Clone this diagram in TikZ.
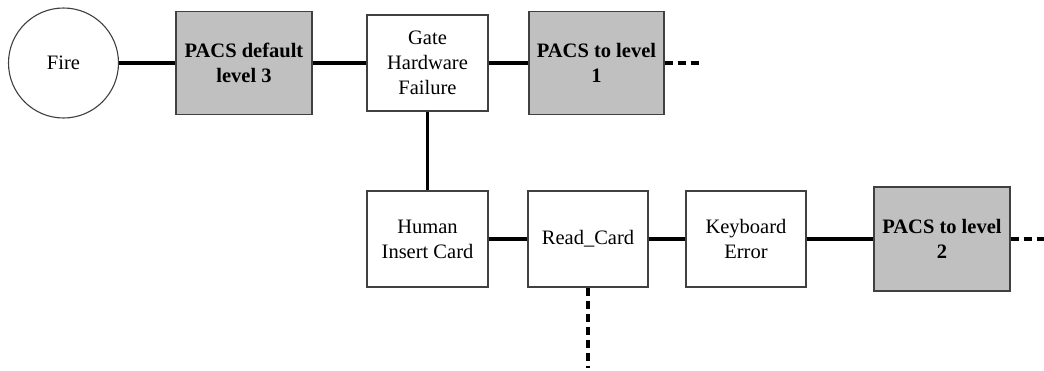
\documentclass[tikz,border=0pt]{standalone}
\usepackage{fontspec}
\setmainfont{Liberation Serif}
\newfontfamily\tnr{Liberation Serif}
\definecolor{boxgray}{HTML}{C0C0C0}
\begin{document}
\begin{tikzpicture}[x=1pt,y=-1pt,
  every node/.style={font=\tnr\fontsize{20.5}{25}\selectfont, align=center, inner sep=0pt},
  plainbox/.style={draw=black!75, line width=1.2pt, fill=white, rectangle},
  graybox/.style={draw=black!75, line width=1.2pt, fill=boxgray, rectangle, font=\tnr\fontsize{20.5}{25}\selectfont\bfseries},
  link/.style={line width=3.2pt},
  dlink/.style={line width=3.2pt, dash pattern=on 8pt off 5pt}]
\useasboundingbox (0,0) rectangle (1044,370);
\node[draw=black!75, line width=1.1pt, circle, minimum size=110pt] (fire) at (63.5,63) {Fire};
\node[graybox, minimum width=136pt, minimum height=103pt] (pacs3) at (244,63) {PACS default\\level 3};
\node[plainbox, minimum width=121pt, minimum height=96pt] (gate) at (427.5,63) {Gate\\Hardware\\Failure};
\node[graybox, minimum width=135pt, minimum height=103pt] (pacs1) at (596.5,63) {PACS to level\\1};
\node[plainbox, minimum width=121pt, minimum height=96pt] (human) at (427.5,239) {Human\\Insert Card};
\node[plainbox, minimum width=120pt, minimum height=96pt] (read) at (588,239) {Read\_Card};
\node[plainbox, minimum width=120pt, minimum height=96pt] (kbd) at (746,239) {Keyboard\\Error};
\node[graybox, minimum width=136pt, minimum height=104pt] (pacs2) at (942,239) {PACS to level\\2};
\coordinate (e1) at (703,63);
\coordinate (e2) at (1044,239);
\coordinate (e3) at (588,368);
\draw[link] (fire.east) -- (pacs3.west);
\draw[link] (pacs3.east) -- (gate.west);
\draw[link] (gate.east) -- (pacs1.west);
\draw[dlink] (pacs1.east) -- (e1);
\draw[link] (gate.south) -- (human.north);
\draw[link] (human.east) -- (read.west);
\draw[link] (read.east) -- (kbd.west);
\draw[link] (kbd.east) -- (pacs2.west);
\draw[dlink] (pacs2.east) -- (e2);
\draw[dlink] (read.south) -- (e3);
\end{tikzpicture}
\end{document}
